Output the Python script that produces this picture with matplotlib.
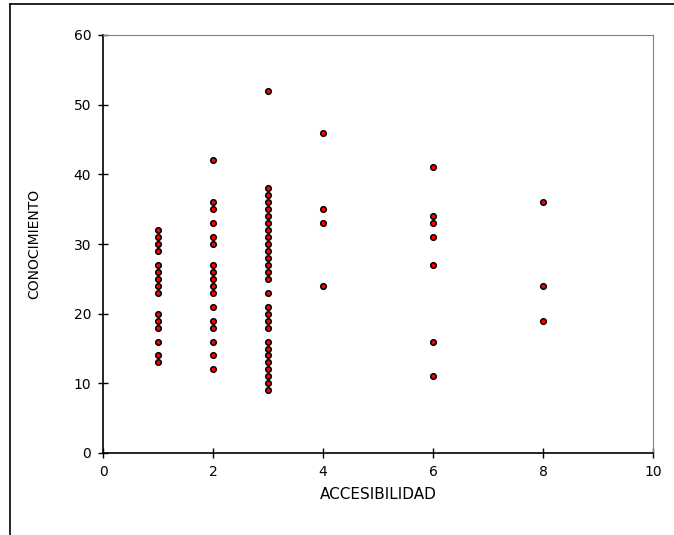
import matplotlib
matplotlib.use('Agg')
import matplotlib.pyplot as plt
from matplotlib.lines import Line2D

plt.rcParams['font.family'] = ['DejaVu Sans']

# accesibilidad groups and the conocimiento scores observed in each
acc_1 = [32, 31, 30, 29, 27, 26, 25, 24, 23, 20, 19, 18, 16, 14, 13]
acc_2 = [42, 36, 35, 33, 31, 30, 27, 26, 25, 24, 23, 21, 19, 18, 16, 14, 12]
acc_3 = [52, 38, 37, 36, 35, 34, 33, 32, 31, 30, 29, 28, 27, 26, 25, 23,
         21, 20, 19, 18, 16, 15, 14, 13, 12, 11, 10, 9]
acc_4 = [46, 35, 33, 24]
acc_6 = [41, 34, 33, 31, 27, 16, 11]
acc_8 = [36, 24, 19]

groups = {1: acc_1, 2: acc_2, 3: acc_3, 4: acc_4, 6: acc_6, 8: acc_8}
x = []
y = []
for k, vals in groups.items():
    x += [k] * len(vals)
    y += vals

fig = plt.figure(figsize=(6.74, 5.35), dpi=100)
ax = fig.add_axes([103/674, 82/535, 550/674, 418/535])

ax.scatter(x, y, s=16, c='red', edgecolors='black', linewidths=1.1, zorder=3, clip_on=False)

ax.set_xlim(0, 10)
ax.set_ylim(0, 60)
ax.set_xticks(range(0, 11, 2))
ax.set_yticks(range(0, 61, 10))
ax.tick_params(direction='inout', length=7, width=1, labelsize=10, pad=5)
ax.set_xlabel('ACCESIBILIDAD', fontsize=11, labelpad=6)
ax.set_ylabel('CONOCIMIENTO', fontsize=10, labelpad=23)

for side in ['top', 'right']:
    ax.spines[side].set_color('#808080')
for side in ['left', 'bottom']:
    ax.spines[side].set_color('black')
    ax.spines[side].set_linewidth(1.2)

# outer frame (left and top edges)
fig.add_artist(Line2D([10/674, 10/674], [0, 1 - 4/535], transform=fig.transFigure, color='black', lw=1.2))
fig.add_artist(Line2D([10/674, 1], [1 - 4/535, 1 - 4/535], transform=fig.transFigure, color='black', lw=1.2))

fig.savefig('out.png', dpi=100)
